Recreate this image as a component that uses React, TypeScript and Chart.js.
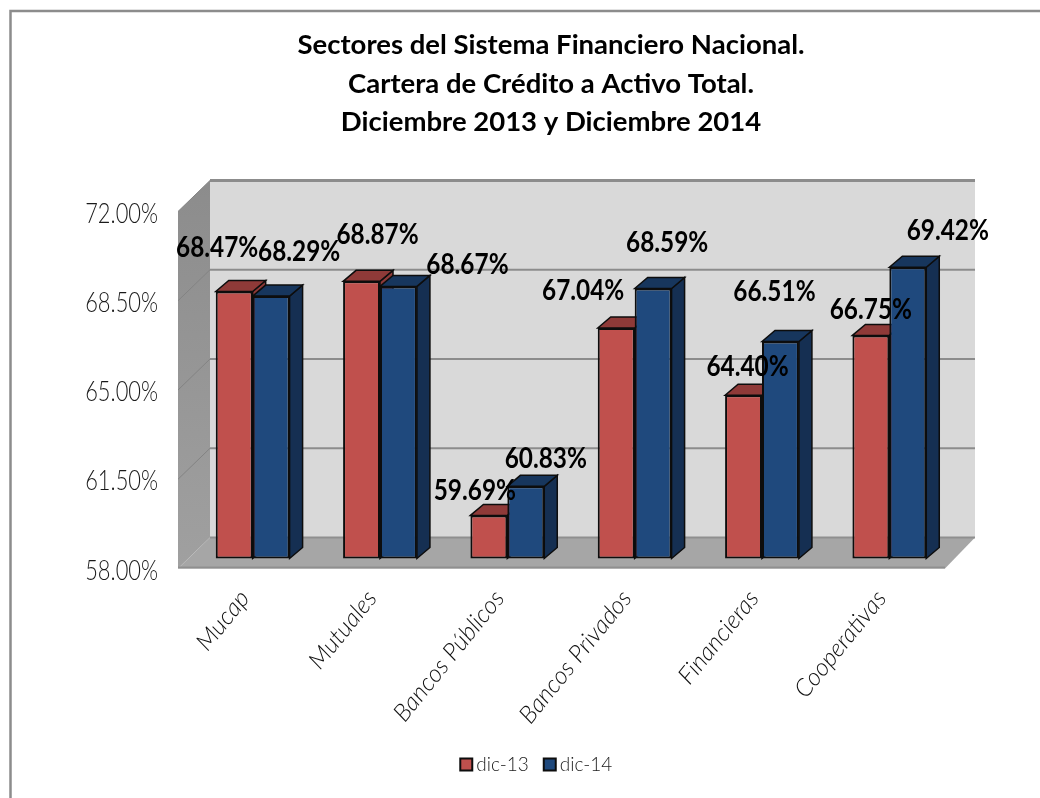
import React, { useEffect, useRef } from "react";
import { Chart, registerables } from "chart.js";

Chart.register(...registerables);

const categories = ["Mucap", "Mutuales", "Bancos Públicos", "Bancos Privados", "Financieras", "Cooperativas"];
const dic13 = [68.47, 68.87, 59.69, 67.04, 64.4, 66.75];
const dic14 = [68.29, 68.67, 60.83, 68.59, 66.51, 69.42];
const titleLines = [
  "Sectores del Sistema Financiero Nacional.",
  "Cartera de Crédito a Activo Total.",
  "Diciembre 2013 y Diciembre 2014",
];
const yMin = 58;
const yMax = 72;
const yStep = 3.5;

// label nudges relative to the bar's top, as placed in the reference
const labelNudge13 = [[-9, -54], [24, -57], [-6, -35], [-25, -47], [12, -39], [8, -36]];
const labelNudge14 = [[36, -54], [77, -32], [28, -38], [22, -56], [2, -60], [48, -47]];

const barShift = { x: 8, y: -10 };
const barDepth = { x: 13, y: -11 };
const wallDepth = { x: 30, y: -31 };

const faceColors = [
  { front: "#c0504d", top: "#8f3a38", side: "#8f3a38" },
  { front: "#1f497d", top: "#17365d", side: "#152f52" },
];

const poly = (ctx: CanvasRenderingContext2D, pts: number[][]) => {
  ctx.beginPath();
  pts.forEach((p, i) => (i ? ctx.lineTo(p[0], p[1]) : ctx.moveTo(p[0], p[1])));
  ctx.closePath();
};

const box3d = {
  id: "box3d",
  afterLayout(chart: any) {
    // legend sits a little left of the title's axis in the reference
    chart.legend.left -= 12;
    chart.legend.right -= 12;
    const y = chart.scales.y;
    y.left = 0; // tick labels are clipped to the scale's box
    const orig = y.drawLabels;
    y.drawLabels = function (area: any) {
      const ctx = chart.ctx;
      const rx = this.right;
      ctx.save();
      ctx.translate(rx, 2);
      ctx.scale(0.78, 1);
      ctx.translate(-rx, 0);
      orig.call(this, area);
      ctx.restore();
    };
  },
  beforeDraw(chart: any) {
    const { ctx, chartArea: a, scales } = chart;
    const dx = wallDepth.x;
    const dy = wallDepth.y;
    ctx.save();
    ctx.fillStyle = "#ffffff";
    ctx.fillRect(0, 0, chart.width, chart.height);
    // outer frame
    ctx.strokeStyle = "#8c8c8c";
    ctx.lineWidth = 2.5;
    ctx.beginPath();
    ctx.moveTo(10.5, chart.height);
    ctx.lineTo(10.5, 11);
    ctx.lineTo(chart.width, 11);
    ctx.stroke();
    const L = a.left - 3;
    const W = L + dx + 2;
    // back wall
    ctx.fillStyle = "#d9d9d9";
    ctx.fillRect(W, a.top + dy, a.right + dx - W, a.bottom - a.top);
    // left wall
    const g = ctx.createLinearGradient(0, a.top + dy, 0, a.bottom);
    g.addColorStop(0, "#8c8c8c");
    g.addColorStop(1, "#a0a0a0");
    ctx.fillStyle = g;
    poly(ctx, [[L, a.top], [W, a.top + dy], [W, a.bottom + dy], [L, a.bottom]]);
    ctx.fill();
    // floor
    ctx.fillStyle = "#a6a6a6";
    poly(ctx, [[L, a.bottom], [a.right, a.bottom], [a.right + dx, a.bottom + dy], [W, a.bottom + dy]]);
    ctx.fill();
    ctx.strokeStyle = "#8f8f8f";
    ctx.lineWidth = 2;
    ctx.beginPath();
    ctx.moveTo(L, a.bottom - 1);
    ctx.lineTo(a.right, a.bottom - 1);
    ctx.moveTo(W, a.bottom + dy);
    ctx.lineTo(a.right + dx, a.bottom + dy);
    ctx.stroke();
    // grid
    scales.y.ticks.forEach((t: any) => {
      const y = scales.y.getPixelForValue(t.value);
      if (t.value === yMin) return;
      ctx.strokeStyle = "#8c8c8c";
      ctx.lineWidth = t.value === yMax ? 3 : 2;
      ctx.beginPath();
      ctx.moveTo(W, y + dy);
      ctx.lineTo(a.right + dx, y + dy);
      ctx.stroke();
      ctx.strokeStyle = "#838383";
      ctx.lineWidth = 1;
      ctx.beginPath();
      ctx.moveTo(L, y);
      ctx.lineTo(W, y + dy);
      ctx.stroke();
    });
    ctx.restore();
  },
  beforeDatasetsDraw(chart: any) {
    // depth faces of every bar, left series first, under all front faces
    const { ctx } = chart;
    ctx.save();
    ctx.translate(barShift.x, barShift.y);
    const dx = barDepth.x;
    const dy = barDepth.y;
    const metas = [chart.getDatasetMeta(0), chart.getDatasetMeta(1)];
    categories.forEach((_, i) => {
      metas.forEach((meta, d) => {
        const colors = faceColors[d];
        const { x, y, base, width } = meta.data[i].getProps(["x", "y", "base", "width"]);
        const l = x - width / 2;
        const r = x + width / 2;
        ctx.lineWidth = 1.5;
        ctx.strokeStyle = "#0d0d0d";
        ctx.fillStyle = colors.side;
        poly(ctx, [[r, y], [r + dx, y + dy], [r + dx, base + dy], [r, base]]);
        ctx.fill();
        ctx.stroke();
        ctx.fillStyle = colors.top;
        poly(ctx, [[l, y], [l + dx, y + dy], [r + dx, y + dy], [r, y]]);
        ctx.fill();
        ctx.stroke();
      });
    });
    ctx.restore();
  },
  beforeDatasetDraw(chart: any) {
    chart.ctx.save();
    chart.ctx.translate(barShift.x, barShift.y);
  },
  afterDatasetDraw(chart: any) {
    chart.ctx.restore();
  },
  afterDatasetsDraw(chart: any) {
    const { ctx } = chart;
    ctx.save();
    ctx.font = 'bold 29px "Lato"';
    ctx.fillStyle = "#000000";
    ctx.textAlign = "center";
    ctx.textBaseline = "middle";
    [labelNudge13, labelNudge14].forEach((nudges, d) => {
      const values = chart.data.datasets[d].data;
      chart.getDatasetMeta(d).data.forEach((el: any, i: number) => {
        const { x, y } = el.getProps(["x", "y"]);
        ctx.save();
        ctx.translate(x + nudges[i][0], y + nudges[i][1]);
        ctx.scale(0.84, 1);
        ctx.fillText(values[i].toFixed(2) + "%", 0, 0);
        ctx.restore();
      });
    });
    ctx.restore();
  },
};

export default function App() {
  const ref = useRef<HTMLCanvasElement>(null);
  useEffect(() => {
    document.body.style.margin = "0";
    const chart = new Chart(ref.current as HTMLCanvasElement, {
      type: "bar",
      data: {
        labels: categories,
        datasets: [
          {
            label: "dic-13",
            data: dic13,
            base: yMin,
            backgroundColor: faceColors[0].front,
            borderColor: "#0d0d0d",
            borderWidth: 2,
            borderSkipped: false,
            clip: false,
          },
          {
            label: "dic-14",
            data: dic14,
            base: yMin,
            backgroundColor: faceColors[1].front,
            borderColor: "#0d0d0d",
            borderWidth: 2,
            borderSkipped: false,
            clip: false,
          },
        ] as any,
      },
      options: {
        responsive: false,
        animation: false,
        layout: { autoPadding: false, padding: { left: 157, right: 95, top: 0, bottom: 14 } },
        datasets: { bar: { categoryPercentage: 0.58, barPercentage: 1 } },
        plugins: {
          title: {
            display: true,
            text: titleLines,
            color: "#000000",
            font: { family: "Lato", size: 27.5, weight: "bold", lineHeight: 1.4 },
            padding: { top: 26, bottom: 70 },
          },
          legend: {
            display: true,
            position: "bottom",
            labels: {
              usePointStyle: true,
              pointStyle: "rect",
              boxWidth: 1,
              boxHeight: 12,
              padding: 20.5,
              color: "#1a1a1a",
              font: { family: "Lato", size: 19, weight: "300" },
            },
          },
          tooltip: { enabled: false },
        },
        scales: {
          x: {
            grid: { display: false },
            border: { display: false },
            ticks: {
              color: "#111111",
              font: { family: "Lato", size: 24.5, style: "italic", weight: "300" },
              minRotation: 51,
              maxRotation: 51,
              padding: 8,
              autoSkip: false,
            },
            afterFit(s: any) {
              s.height = 166;
            },
          },
          y: {
            min: yMin,
            max: yMax,
            grid: { display: false },
            border: { display: false },
            ticks: {
              stepSize: yStep,
              color: "#1a1a1a",
              font: { family: "Lato", size: 28, weight: "300" },
              padding: 21.5,
              callback: (v: any) => Number(v).toFixed(2) + "%",
            },
            afterFit(s: any) {
              s.width = 24;
            },
          },
        },
      } as any,
      plugins: [box3d],
    });
    return () => chart.destroy();
  }, []);
  return <canvas ref={ref} width={1040} height={798} style={{ display: "block" }} />;
}
